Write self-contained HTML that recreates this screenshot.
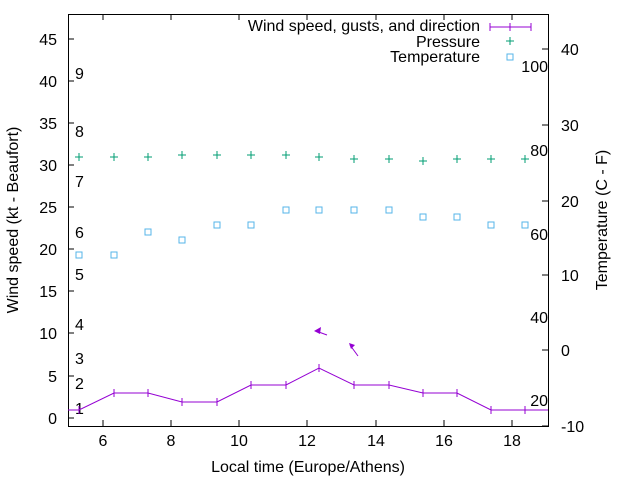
<!DOCTYPE html>
<html><head><style>body{margin:0;background:#fff}svg{display:block}text{font-family:"Liberation Sans",sans-serif;font-size:16px;fill:#000}</style></head><body>
<svg width="640" height="480" xmlns="http://www.w3.org/2000/svg">
<rect x="68.5" y="14.5" width="480" height="412" fill="none" stroke="#000" stroke-width="1"/>
<g stroke="#000">
<path d="M68 418h6M68 376h6M68 333h6M68 291h6M68 249h6M68 207h6M68 165h6M68 123h6M68 81h6M68 39h6"/>
<path d="M548 426h-6M548 350h-6M548 275h-6M548 201h-6M548 125h-6M548 49h-6"/>
<path d="M103 426v-6M171 426v-6M239 426v-6M307 426v-6M376 426v-6M444 426v-6M512 426v-6"/>
<path d="M103 14v6M171 14v6M239 14v6M307 14v6M376 14v6M444 14v6M512 14v6"/>
</g>
<g text-anchor="end">
<text x="57" y="424">0</text><text x="57" y="382">5</text><text x="57" y="339">10</text><text x="57" y="297">15</text><text x="57" y="255">20</text><text x="57" y="213">25</text><text x="57" y="171">30</text><text x="57" y="129">35</text><text x="57" y="87">40</text><text x="57" y="45">45</text>
</g>
<g text-anchor="start">
<text x="561" y="432">-10</text><text x="561" y="356">0</text><text x="561" y="281">10</text><text x="561" y="207">20</text><text x="561" y="131">30</text><text x="561" y="55">40</text>
</g>
<g text-anchor="middle">
<text x="103" y="446">6</text><text x="171" y="446">8</text><text x="239" y="446">10</text><text x="307" y="446">12</text><text x="376" y="446">14</text><text x="444" y="446">16</text><text x="512" y="446">18</text>
<text x="308" y="472">Local time (Europe/Athens)</text>
</g>
<text transform="translate(18,220) rotate(-90)" text-anchor="middle">Wind speed (kt - Beaufort)</text>
<text transform="translate(607,220) rotate(-90)" text-anchor="middle">Temperature (C - F)</text>
<g>
<text x="75" y="414">1</text><text x="75" y="389">2</text><text x="75" y="364">3</text><text x="75" y="330">4</text><text x="75" y="280">5</text><text x="75" y="238">6</text><text x="75" y="187">7</text><text x="75" y="137">8</text><text x="75" y="79">9</text>
</g>
<g text-anchor="end">
<text x="548" y="406">20</text><text x="548" y="323">40</text><text x="548" y="240">60</text><text x="548" y="156">80</text><text x="548" y="72">100</text>
</g>
<g stroke="#9400d3" fill="none" stroke-width="1">
<polyline points="68,410 79,410 114,393 148,393 182,402 217,402 251,385 286,385 319,368 354,385 389,385 423,393 457,393 491,410 525,410 548,410"/>
<path d="M79 406v8M114 389v8M148 389v8M182 398v8M217 398v8M251 381v8M286 381v8M319 364v8M354 381v8M389 381v8M423 389v8M457 389v8M491 406v8M525 406v8"/>
<path d="M327 335L316 331M358 356L350 345"/>
</g>
<g fill="#9400d3"><path d="M314 331l7 -4l-1 7z"/><path d="M349 343l6 2l-4 4z"/></g>
<g stroke="#009e73" stroke-width="1">
<path d="M75 157h8M79 153v8M110 157h8M114 153v8M144 157h8M148 153v8M178 155h8M182 151v8M213 155h8M217 151v8M247 155h8M251 151v8M282 155h8M286 151v8M315 157h8M319 153v8M350 159h8M354 155v8M385 159h8M389 155v8M419 161h8M423 157v8M453 159h8M457 155v8M487 159h8M491 155v8M521 159h8M525 155v8"/>
<path d="M506 41h8M510 37v8"/>
</g>
<g stroke="#56b4e9" fill="none" stroke-width="1">
<rect x="76" y="252" width="6" height="6"/><rect x="111" y="252" width="6" height="6"/><rect x="145" y="229" width="6" height="6"/><rect x="179" y="237" width="6" height="6"/><rect x="214" y="222" width="6" height="6"/><rect x="248" y="222" width="6" height="6"/><rect x="283" y="207" width="6" height="6"/><rect x="316" y="207" width="6" height="6"/><rect x="351" y="207" width="6" height="6"/><rect x="386" y="207" width="6" height="6"/><rect x="420" y="214" width="6" height="6"/><rect x="454" y="214" width="6" height="6"/><rect x="488" y="222" width="6" height="6"/><rect x="522" y="222" width="6" height="6"/>
<rect x="507" y="54" width="6" height="6"/>
</g>
<g stroke="#9400d3"><path d="M490 27h41M490 23v8M510 23v8M531 23v8"/></g>
<g text-anchor="end"><text x="480" y="31">Wind speed, gusts, and direction</text><text x="480" y="47">Pressure</text><text x="480" y="62">Temperature</text></g>
</svg>
</body></html>
